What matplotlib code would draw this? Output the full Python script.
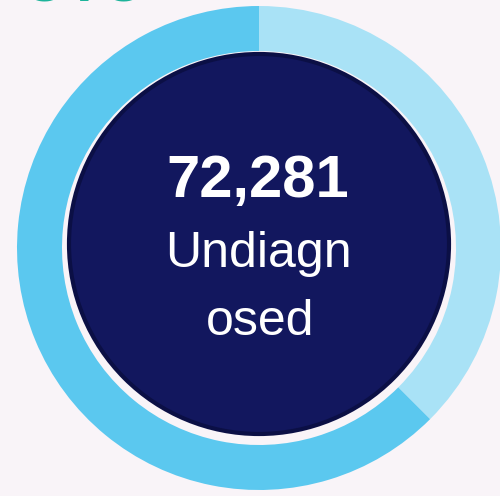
import matplotlib.pyplot as plt
from matplotlib.patches import Circle

# ring data: share shown in light blue (from 12 o'clock, clockwise) and the rest
shares = [37.5, 62.5]
share_names = ['Other', 'Undiagnosed']
ring_colors = ['#a9e2f6', '#5bc8ef']
count_text = '72,281'
label_lines = ['Undiagn', 'osed']
header_text = 'OTO'

plt.rcParams['font.family'] = ['Liberation Sans', 'DejaVu Sans']

fig = plt.figure(figsize=(5, 4.96), dpi=100)
fig.patch.set_facecolor('#f9f4f8')
ax = fig.add_axes([0, 0, 1, 1])
ax.set_facecolor('#f9f4f8')

H = 496
cx, cy = 259, H - 248

ax.pie(shares, colors=ring_colors, startangle=90, counterclock=False,
       radius=242, center=(cx, cy), frame=True,
       wedgeprops=dict(width=45, linewidth=0))

# dark centre disc with a thin darker rim
ax.add_patch(Circle((cx, H - 244), 190, facecolor='#12175e',
                    edgecolor='#0b0f45', linewidth=3, zorder=3))

ax.text(258, H - 197, count_text, color='white', fontsize=43,
        fontweight='bold', ha='center', va='baseline', zorder=4)
ax.text(258, H - 267, label_lines[0], color='white', fontsize=36,
        ha='center', va='baseline', zorder=4)
ax.text(260, H - 335, label_lines[1], color='white', fontsize=36,
        ha='center', va='baseline', zorder=4)

# heading cut off at the top edge, only the bottoms of the glyphs show
ax.text(84, H - 2, header_text, color='#1db39a', fontsize=42,
        fontweight='bold', ha='center', va='baseline', zorder=4)

ax.set_xlim(0, 500)
ax.set_ylim(0, H)
ax.set_aspect('equal')
ax.axis('off')

fig.savefig('out.png', dpi=100, facecolor=fig.get_facecolor())
